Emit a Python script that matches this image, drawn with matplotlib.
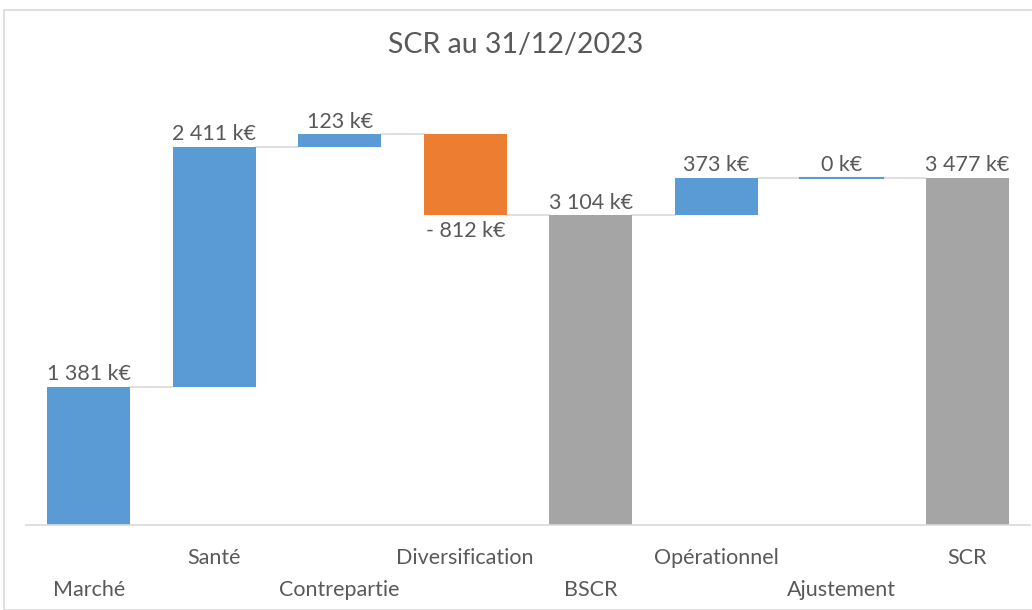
import matplotlib
matplotlib.use("Agg")
from matplotlib import pyplot as plt
from matplotlib.patches import Rectangle
from matplotlib.transforms import blended_transform_factory

# waterfall data (k€)
categories = ["Marché", "Santé", "Contrepartie", "Diversification", "BSCR",
              "Opérationnel", "Ajustement", "SCR"]
values = [1381, 2411, 123, -812, 3104, 373, 0, 3477]
is_total = [False, False, False, False, True, False, False, True]
labels = ["1 381 k€", "2 411 k€", "123 k€", "- 812 k€", "3 104 k€",
          "373 k€", "0 k€", "3 477 k€"]

blue = "#5B9BD5"
orange = "#ED7D31"
grey = "#A5A5A5"
txt = "#595959"

plt.rcParams['font.family'] = ['Lato', 'DejaVu Sans']

fig = plt.figure(figsize=(10.32, 6.10), dpi=100)
ax = fig.add_axes([26 / 1032, 85 / 610, 1004 / 1032, 399 / 610])

# running totals
bottoms, tops = [], []
running = 0
for v, tot in zip(values, is_total):
    if tot:
        bottoms.append(0)
        tops.append(v)
        running = v
    else:
        bottoms.append(running)
        running += v
        tops.append(running)

width = 0.66
x = list(range(len(categories)))
for i, (v, tot) in enumerate(zip(values, is_total)):
    if tot:
        c = grey
    elif v < 0:
        c = orange
    else:
        c = blue
    h = tops[i] - bottoms[i]
    if h == 0:
        ax.plot([i - width / 2, i + width / 2], [tops[i]] * 2, color=c, lw=1.5)
    else:
        ax.bar(i, h, bottom=bottoms[i], width=width, color=c, zorder=2)

# connector lines
for i in range(len(categories) - 1):
    ax.plot([i + width / 2, i + 1 - width / 2], [tops[i], tops[i]],
            color="#D9D9D9", lw=1.2, zorder=1)

# value labels
for i, v in enumerate(values):
    if v < 0:
        ax.annotate(labels[i], (i, tops[i]), xytext=(0, -4), textcoords="offset points",
                    ha="center", va="top", fontsize=15.5, color=txt)
    else:
        ax.annotate(labels[i], (i, max(tops[i], bottoms[i])), xytext=(0, 2),
                    textcoords="offset points", ha="center", va="bottom",
                    fontsize=15.5, color=txt)

# staggered category labels
trans = blended_transform_factory(ax.transData, ax.transAxes)
for i, name in enumerate(categories):
    off = -65 if i % 2 == 0 else -33
    ax.annotate(name, (i, 0), xycoords=trans, xytext=(0, off * 0.72),
                textcoords="offset points", ha="center", va="center",
                fontsize=15.5, color=txt)

ax.set_xlim(-0.5, len(categories) - 0.5)
ax.set_ylim(0, 4000)
ax.set_xticks([])
ax.set_yticks([])
for s in ["top", "right", "left"]:
    ax.spines[s].set_visible(False)
ax.spines["bottom"].set_color("#D9D9D9")
ax.spines["bottom"].set_linewidth(1.2)

fig.text(0.5, 1 - 45 / 610, "SCR au 31/12/2023", ha="center", va="center",
         fontsize=20.5, color=txt)

# chart border
fig.patches.append(Rectangle((4 / 1032, 0), 1.05, 1 - 10 / 610, transform=fig.transFigure,
                             fill=False, edgecolor="#D9D9D9", lw=1.2))

fig.savefig("out.png", dpi=100)
